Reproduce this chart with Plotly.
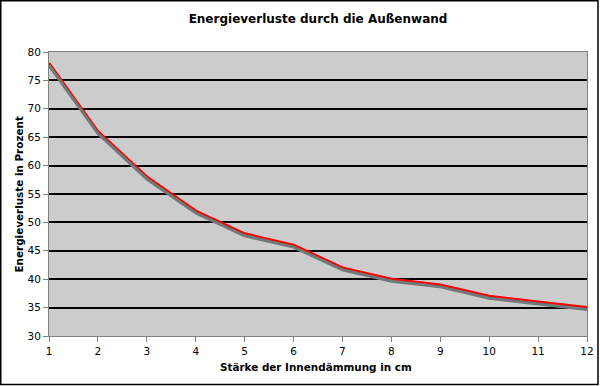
import plotly.graph_objects as go

thickness_cm = [1, 2, 3, 4, 5, 6, 7, 8, 9, 10, 11, 12]
loss_percent = [78, 66, 58, 52, 48, 46, 42, 40, 39, 37, 36, 35]
y_ticks = [30, 35, 40, 45, 50, 55, 60, 65, 70, 75, 80]

W, H = 600, 386
L, R, T, B = 49, 13, 52, 50
pw, ph = W - L - R, H - T - B

font = "DejaVu Sans"

fig = go.Figure()
# shadow line on a slightly shifted overlay axis
shift = 2 * 50 / ph
fig.add_trace(go.Scatter(x=thickness_cm, y=loss_percent, mode="lines", yaxis="y2",
                         line=dict(color="#6f7a7a", width=3), hoverinfo="skip", showlegend=False))
fig.add_trace(go.Scatter(x=thickness_cm, y=loss_percent, mode="lines",
                         line=dict(color="#ff0000", width=3), showlegend=False))

def px2x(p):
    return (p - L) / pw

def py2y(p):
    return (H - B - p) / ph

fig.update_layout(
    width=W, height=H,
    margin=dict(l=L, r=R, t=T, b=B, autoexpand=False),
    paper_bgcolor="white",
    plot_bgcolor="#cccccc",
    title=dict(text="<b>Energieverluste durch die Außenwand</b>", x=0.5, xref="paper", xanchor="center",
               y=1 - 19 / H, yanchor="middle", font=dict(family=font, size=12, color="black")),
    xaxis=dict(range=[1, 12], tickvals=thickness_cm, ticks="outside", ticklen=5, tickcolor="#808080",
               showgrid=False, zeroline=False, showline=True, linecolor="#808080", linewidth=1,
               mirror=True, automargin=False, tickfont=dict(family=font, size=10.5, color="black")),
    yaxis=dict(range=[30, 80], tickvals=y_ticks, ticks="outside", ticklen=5, tickcolor="#808080",
               showgrid=True, gridcolor="black", gridwidth=1.5, zeroline=False, showline=True,
               linecolor="#808080", linewidth=1, mirror=True, automargin=False,
               tickfont=dict(family=font, size=10.5, color="black")),
    yaxis2=dict(range=[30 + shift, 80 + shift], overlaying="y", visible=False),
    annotations=[
        dict(text="<b>Stärke der Innendämmung in cm</b>", xref="paper", yref="paper",
             x=px2x(316), y=py2y(367), xanchor="center", yanchor="middle", showarrow=False,
             font=dict(family=font, size=10.4, color="black")),
        dict(text="<b>Energieverluste in Prozent</b>", xref="paper", yref="paper",
             x=px2x(18), y=py2y(194.5), xanchor="center", yanchor="middle", showarrow=False,
             textangle=-90, font=dict(family=font, size=10.4, color="black")),
    ],
    shapes=[dict(type="rect", xref="paper", yref="paper",
                 x0=px2x(0.75), x1=px2x(598), y0=py2y(384.5), y1=py2y(0.75),
                 line=dict(color="black", width=1.5), layer="below")],
)

fig.write_html("out.html", config={"displayModeBar": False},
               post_script="document.body.style.margin='0';document.body.style.overflow='hidden';")
